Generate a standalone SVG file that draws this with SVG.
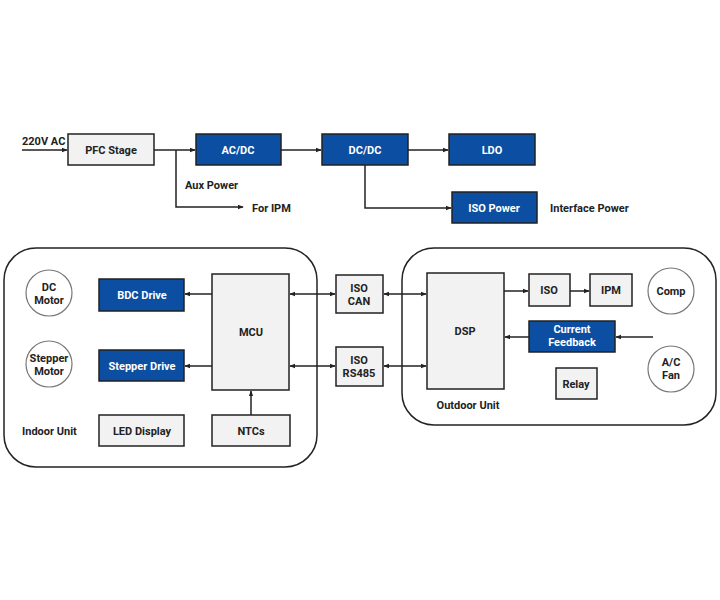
<svg xmlns="http://www.w3.org/2000/svg" width="720" height="600" viewBox="0 0 720 600">
<defs>
<style>
.g{fill:#f2f2f2;stroke:#222;stroke-width:1.5}
.b{fill:#0b4ea2;stroke:#222;stroke-width:1.5}
.c{fill:#fff;stroke:#777;stroke-width:1.2}
.u{fill:none;stroke:#222;stroke-width:1.5}
.t{font-family:Roboto,"Liberation Sans",sans-serif;font-weight:700;font-size:11px;fill:#222;text-anchor:middle}
.w{fill:#fff}
.l{text-anchor:start}
.e{fill:none;stroke:#222;stroke-width:1.5}
</style>
<marker id="a" viewBox="0 0 8 8" refX="7" refY="4" markerWidth="6" markerHeight="6" orient="auto-start-reverse" markerUnits="userSpaceOnUse"><path d="M0,1 L8,4 L0,7 z" fill="#222"/></marker>
</defs>
<rect width="720" height="600" fill="#fff"/>
<g id="indoor-unit"><rect class="u" x="4" y="248" width="313" height="219" rx="32"/><text class="t l" x="22" y="435">Indoor Unit</text></g>
<g id="outdoor-unit"><rect class="u" x="402" y="248" width="314" height="177" rx="32"/><text class="t" x="468" y="409">Outdoor Unit</text></g>
<g id="connectors">
<path class="e" d="M22,150 H67" marker-end="url(#a)"/>
<path class="e" d="M154,150 H195" marker-end="url(#a)"/>
<path class="e" d="M176,150 V207 H243" marker-end="url(#a)"/>
<path class="e" d="M281,150 H321" marker-end="url(#a)"/>
<path class="e" d="M408,150 H448" marker-end="url(#a)"/>
<path class="e" d="M365,165 V208 H451" marker-end="url(#a)"/>
<path class="e" d="M212,294 H185" marker-end="url(#a)"/>
<path class="e" d="M212,366 H185" marker-end="url(#a)"/>
<path class="e" d="M251,415 V391" marker-end="url(#a)"/>
<path class="e" d="M290,294 H335" marker-start="url(#a)" marker-end="url(#a)"/>
<path class="e" d="M290,366 H335" marker-start="url(#a)" marker-end="url(#a)"/>
<path class="e" d="M384,294 H426" marker-start="url(#a)" marker-end="url(#a)"/>
<path class="e" d="M384,366 H426" marker-start="url(#a)" marker-end="url(#a)"/>
<path class="e" d="M504,291 H528" marker-end="url(#a)"/>
<path class="e" d="M570,291 H589" marker-end="url(#a)"/>
<path class="e" d="M653,337 H616" marker-end="url(#a)"/>
<path class="e" d="M529,337 H505" marker-end="url(#a)"/>
</g>
<g id="label-220v"><text class="t l" x="22" y="145">220V AC</text></g>
<g id="pfc"><rect class="g" x="68" y="134" width="86" height="31"/><text class="t" x="111" y="154">PFC Stage</text></g>
<g id="label-aux"><text class="t l" x="185" y="189">Aux Power</text></g>
<g id="label-ipm"><text class="t l" x="252" y="212">For IPM</text></g>
<g id="acdc"><rect class="b" x="196" y="134" width="85" height="31"/><text class="t w" x="238" y="154">AC/DC</text></g>
<g id="dcdc"><rect class="b" x="322" y="134" width="86" height="31"/><text class="t w" x="365" y="154">DC/DC</text></g>
<g id="ldo"><rect class="b" x="449" y="134" width="86" height="31"/><text class="t w" x="492" y="154">LDO</text></g>
<g id="isopower"><rect class="b" x="452" y="192" width="85" height="31"/><text class="t w" x="494" y="212">ISO Power</text></g>
<g id="label-iface"><text class="t l" x="550" y="212">Interface Power</text></g>
<g id="dcmotor"><circle class="c" cx="49" cy="293" r="23"/><text class="t" x="49" y="291">DC</text><text class="t" x="49" y="304">Motor</text></g>
<g id="stepmotor"><circle class="c" cx="49" cy="364" r="23"/><text class="t" x="49" y="362">Stepper</text><text class="t" x="49" y="375">Motor</text></g>
<g id="bdc"><rect class="b" x="99" y="279" width="85" height="32"/><text class="t w" x="142" y="299">BDC Drive</text></g>
<g id="stepdrive"><rect class="b" x="99" y="350" width="85" height="31"/><text class="t w" x="142" y="370">Stepper Drive</text></g>
<g id="mcu"><rect class="g" x="212" y="274" width="77" height="116"/><text class="t" x="251" y="336">MCU</text></g>
<g id="led"><rect class="g" x="99" y="415" width="85" height="31"/><text class="t" x="142" y="435">LED Display</text></g>
<g id="ntcs"><rect class="g" x="212" y="415" width="78" height="31"/><text class="t" x="251" y="435">NTCs</text></g>
<g id="isocan"><rect class="g" x="336" y="275" width="47" height="38"/><text class="t" x="359" y="292">ISO</text><text class="t" x="359" y="305">CAN</text></g>
<g id="iso485"><rect class="g" x="336" y="347" width="47" height="39"/><text class="t" x="359" y="364">ISO</text><text class="t" x="359" y="377">RS485</text></g>
<g id="dsp"><rect class="g" x="427" y="273" width="77" height="116"/><text class="t" x="465" y="335">DSP</text></g>
<g id="iso"><rect class="g" x="529" y="274" width="41" height="32"/><text class="t" x="549" y="294">ISO</text></g>
<g id="ipm"><rect class="g" x="590" y="274" width="42" height="32"/><text class="t" x="611" y="294">IPM</text></g>
<g id="comp"><circle class="c" cx="671" cy="291" r="23"/><text class="t" x="671" y="295">Comp</text></g>
<g id="feedback"><rect class="b" x="529" y="321" width="86" height="31"/><text class="t w" x="572" y="333">Current</text><text class="t w" x="572" y="346">Feedback</text></g>
<g id="fan"><circle class="c" cx="671" cy="369" r="23"/><text class="t" x="671" y="366">A/C</text><text class="t" x="671" y="379">Fan</text></g>
<g id="relay"><rect class="g" x="556" y="368" width="41" height="31"/><text class="t" x="576" y="388">Relay</text></g>
</svg>
